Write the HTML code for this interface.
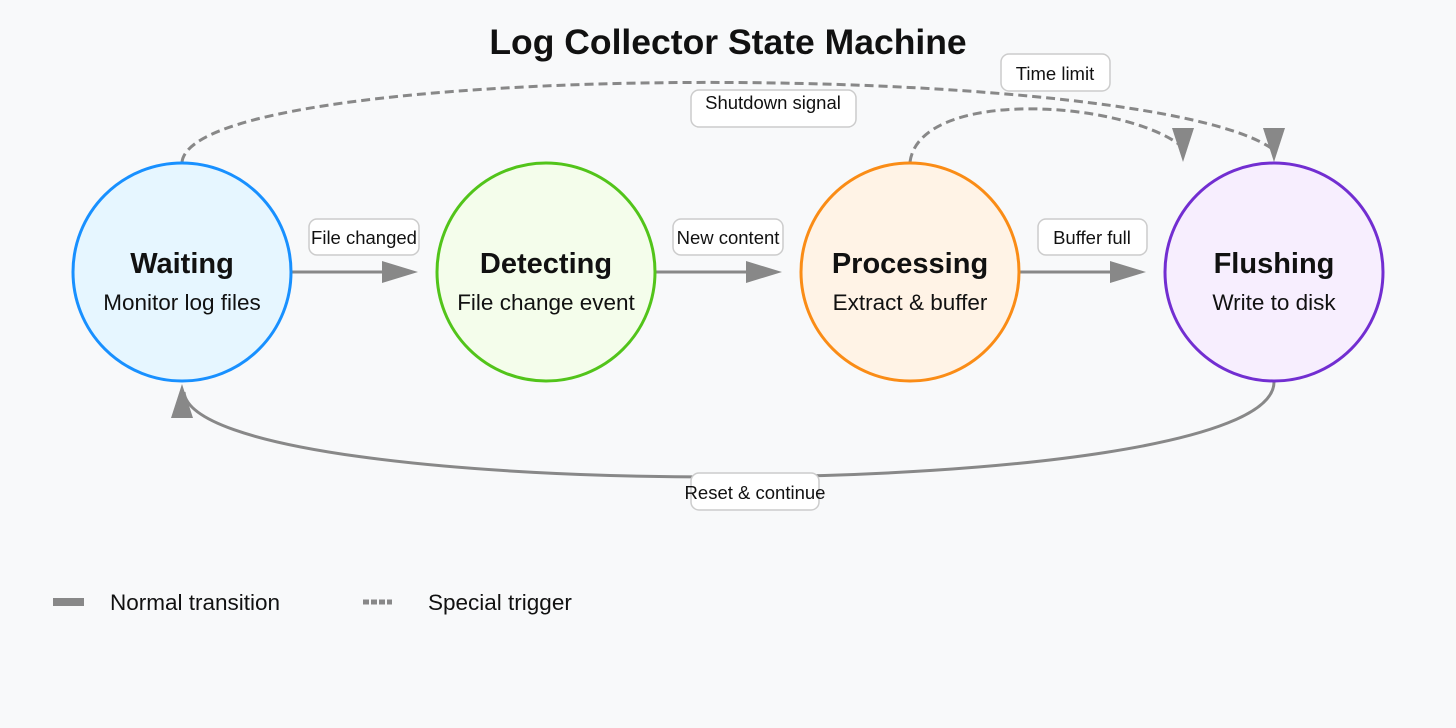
<!DOCTYPE html>
<html><head><meta charset="utf-8"><style>
body{margin:0;background:#f8f9fa;}
svg{display:block;font-family:"Liberation Sans",sans-serif;}
</style></head><body>
<svg width="1456" height="728" viewBox="0 0 1456 728">
<rect width="1456" height="728" fill="#f8f9fa"/>
<text x="728" y="54" text-anchor="middle" font-size="35.5" font-weight="bold" fill="#111">Log Collector State Machine</text>

<!-- dashed top curves -->
<path d="M182,162 C195,58 1150,58 1274,150" fill="none" stroke="#888" stroke-width="3" stroke-dasharray="9,5"/>
<path d="M910,162 C920,88 1120,100 1180,145" fill="none" stroke="#888" stroke-width="3" stroke-dasharray="9,5"/>
<polygon points="1263,128 1285,128 1274,162" fill="#888"/>
<polygon points="1172,128 1194,128 1183,162" fill="#888"/>

<!-- bottom curve -->
<path d="M1274,382 C1274,507 195,507 184,392" fill="none" stroke="#888" stroke-width="3"/>
<polygon points="171,418 193,418 182,384" fill="#888"/>

<!-- straight arrows -->
<g stroke="#888" stroke-width="3"><line x1="292" y1="272" x2="390" y2="272"/><line x1="656" y1="272" x2="754" y2="272"/><line x1="1020" y1="272" x2="1118" y2="272"/></g>
<g fill="#888"><polygon points="382,261 418,272 382,283"/><polygon points="746,261 782,272 746,283"/><polygon points="1110,261 1146,272 1110,283"/></g>

<!-- circles -->
<circle cx="182" cy="272" r="109" fill="#e6f6ff" stroke="#1890ff" stroke-width="3"/>
<circle cx="546" cy="272" r="109" fill="#f4fdeb" stroke="#52c41a" stroke-width="3"/>
<circle cx="910" cy="272" r="109" fill="#fff3e6" stroke="#fa8c16" stroke-width="3"/>
<circle cx="1274" cy="272" r="109" fill="#f7eefe" stroke="#722ed1" stroke-width="3"/>
<g text-anchor="middle" fill="#111">
<text x="182" y="273" font-size="29" font-weight="bold">Waiting</text>
<text x="182" y="310" font-size="22.5">Monitor log files</text>
<text x="546" y="273" font-size="29" font-weight="bold">Detecting</text>
<text x="546" y="310" font-size="22.5">File change event</text>
<text x="910" y="273" font-size="29" font-weight="bold">Processing</text>
<text x="910" y="310" font-size="22.5">Extract &amp; buffer</text>
<text x="1274" y="273" font-size="29" font-weight="bold">Flushing</text>
<text x="1274" y="310" font-size="22.5">Write to disk</text>
</g>

<!-- labels -->
<g fill="#fff" stroke="#ccc" stroke-width="1.5">
<rect x="309" y="219" width="110" height="36" rx="8"/>
<rect x="673" y="219" width="110" height="36" rx="8"/>
<rect x="1038" y="219" width="109" height="36" rx="8"/>
<rect x="691" y="90" width="165" height="37" rx="8"/>
<rect x="1001" y="54" width="109" height="37" rx="8"/>
<rect x="691" y="473" width="128" height="37" rx="8"/>
</g>
<g text-anchor="middle" font-size="18.5" fill="#111">
<text x="364" y="244">File changed</text>
<text x="728" y="244">New content</text>
<text x="1092" y="244">Buffer full</text>
<text x="773" y="109">Shutdown signal</text>
<text x="1055" y="80">Time limit</text>
<text x="755" y="499">Reset &amp; continue</text>
</g>

<!-- legend -->
<rect x="53" y="598" width="31" height="8" fill="#888"/>
<text x="110" y="610" font-size="22.5" fill="#111">Normal transition</text>
<line x1="363" y1="602" x2="392" y2="602" stroke="#888" stroke-width="5" stroke-dasharray="6,2"/>
<text x="428" y="610" font-size="22.5" fill="#111">Special trigger</text>
</svg>
</body></html>
